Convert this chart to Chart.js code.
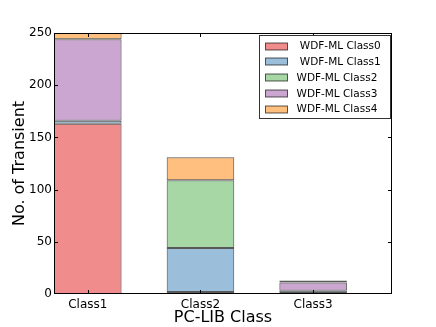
<!DOCTYPE html>
<html>
<head>
<meta charset="utf-8">
<script src="https://cdn.jsdelivr.net/npm/chart.js@4/dist/chart.umd.min.js"></script>
<style>
  html, body { margin: 0; padding: 0; background: #fff; }
  #wrap { width: 436px; height: 327px; position: relative; }
</style>
</head>
<body>
<div id="wrap"><canvas id="transientChart"></canvas></div>
<script>
// PC-LIB classes on the x axis (bars sit at x = 0, 1, 2)
const pcLibClasses = ['Class1', 'Class2', 'Class3'];
const seriesLabels = [' WDF-ML Class0', ' WDF-ML Class1', 'WDF-ML Class2', 'WDF-ML Class3', 'WDF-ML Class4'];

// counts per WDF-ML class, one value per PC-LIB class
const wdfClass0 = [163, 2, 1];
const wdfClass1 = [3, 42, 2];
const wdfClass2 = [0, 65, 0];
const wdfClass3 = [78, 0, 8];
const wdfClass4 = [6, 22, 2];

const yTicks = [0, 50, 100, 150, 200, 250];

const seriesValues = [wdfClass0, wdfClass1, wdfClass2, wdfClass3, wdfClass4];
const seriesColors = [
    'rgba(228, 26, 28, 0.5)',
    'rgba(55, 126, 184, 0.5)',
    'rgba(77, 175, 74, 0.5)',
    'rgba(152, 78, 163, 0.5)',
    'rgba(255, 127, 0, 0.5)'
];

Chart.defaults.font.family = "'DejaVu Sans', sans-serif";
Chart.defaults.color = '#000';

const datasets = seriesValues.map((vals, i) => ({
    label: seriesLabels[i],
    data: vals.map((v, j) => ({ x: j, y: v })),
    backgroundColor: seriesColors[i],
    borderColor: 'rgba(0, 0, 0, 0.65)',
    borderWidth: 1,
    borderSkipped: false,
    categoryPercentage: 0.6,
    barPercentage: 1.0
}));

// frame + inward ticks on all four sides, like the matplotlib original
const frameTicks = {
    id: 'frameTicks',
    afterDraw(chart) {
        const { ctx, chartArea: a, scales } = chart;
        const L = Math.round(a.left), R = Math.round(a.right) - 1;
        const T = Math.round(a.top), B = Math.round(a.bottom) - 1;
        ctx.save();
        ctx.fillStyle = '#000';
        // spines
        ctx.fillRect(L, T, R - L + 1, 1);
        ctx.fillRect(L, B, R - L + 1, 1);
        ctx.fillRect(L, T, 1, B - T + 1);
        ctx.fillRect(R, T, 1, B - T + 1);
        // ticks
        scales.y.ticks.forEach(t => {
            const y = Math.min(B, Math.round(scales.y.getPixelForValue(t.value)));
            ctx.fillRect(L, y, 4, 1);
            ctx.fillRect(R - 3, y, 4, 1);
        });
        scales.x.ticks.forEach(t => {
            const x = Math.round(scales.x.getPixelForValue(t.value));
            ctx.fillRect(x, B - 3, 1, 4);
            ctx.fillRect(x, T, 1, 4);
        });
        ctx.restore();
    }
};

// boxed legend in the upper right corner of the plot
const boxLegend = {
    id: 'boxLegend',
    afterDraw(chart) {
        const { ctx, chartArea: a } = chart;
        const w = 131, h = 83;
        const x0 = Math.round(a.right) - 2 - w + 0.5;
        const y0 = Math.round(a.top) + 2 + 0.5;
        ctx.save();
        ctx.fillStyle = '#fff';
        ctx.fillRect(x0, y0, w, h);
        ctx.strokeStyle = '#333';
        ctx.lineWidth = 1;
        ctx.strokeRect(x0, y0, w, h);
        ctx.font = "10.5px 'DejaVu Sans'";
        ctx.textBaseline = 'middle';
        chart.data.datasets.forEach((ds, i) => {
            const cy = y0 + 11 + i * 15.8;
            ctx.fillStyle = ds.backgroundColor;
            ctx.fillRect(x0 + 6, Math.round(cy - 4), 22, 7);
            ctx.strokeStyle = 'rgba(0,0,0,0.65)';
            ctx.strokeRect(x0 + 6, Math.round(cy - 4), 22, 7);
            ctx.fillStyle = '#000';
            ctx.fillText(ds.label, x0 + 37, cy);
        });
        ctx.restore();
    }
};

new Chart(document.getElementById('transientChart'), {
    type: 'bar',
    data: { datasets: datasets },
    options: {
        responsive: true,
        maintainAspectRatio: false,
        animation: false,
        layout: { padding: { left: 0, top: 33, right: 44, bottom: 0 } },
        plugins: {
            legend: { display: false },
            tooltip: { enabled: false }
        },
        scales: {
            x: {
                type: 'linear',
                stacked: true,
                offset: false,
                bounds: 'ticks',
                min: -0.3,
                max: 2.7,
                afterDataLimits: scale => { scale.min = -0.3; scale.max = 2.7; },
                afterBuildTicks: scale => {
                    scale.ticks = pcLibClasses.map((c, i) => ({ value: i }));
                },
                afterFit: scale => { scale.height = 33; },
                grid: { display: false, drawTicks: false, offset: false },
                border: { display: false },
                ticks: {
                    padding: 4,
                    font: { size: 12 },
                    callback: v => pcLibClasses[v]
                },
                title: {
                    display: true,
                    text: 'PC-LIB Class',
                    font: { size: 16 },
                    padding: { top: 0, bottom: 0 }
                }
            },
            y: {
                stacked: true,
                min: 0,
                max: 250,
                afterBuildTicks: scale => {
                    scale.ticks = yTicks.map(v => ({ value: v }));
                },
                afterFit: scale => { scale.width = 54; },
                grid: { display: false, drawTicks: false },
                border: { display: false },
                ticks: { padding: 2, font: { size: 12 } },
                title: {
                    display: true,
                    text: 'No. of Transient',
                    font: { size: 16 },
                    padding: { top: 10, bottom: 0 }
                }
            }
        }
    },
    plugins: [frameTicks, boxLegend]
});
</script>
</body>
</html>
